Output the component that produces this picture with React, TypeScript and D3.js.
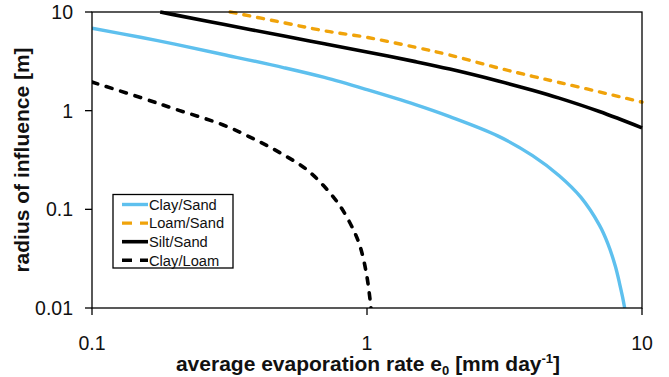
import React from "react";
import * as d3 from "d3";

// evaporation rate e0 [mm/day] vs radius of influence [m]
const claySandX = [0.1, 0.15, 0.2, 0.3, 0.5, 0.7, 1, 1.5, 2, 3, 4, 5, 6, 7, 7.5, 8, 8.3, 8.5, 8.65];
const claySandY = [6.84, 5.55, 4.72, 3.71, 2.72, 2.17, 1.63, 1.15, 0.869, 0.552, 0.35, 0.219, 0.132, 0.0692, 0.0455, 0.0265, 0.0174, 0.0129, 0.01];

const loamSandX = [0.318, 0.5, 0.7, 1, 1.5, 2, 3, 4, 5, 7, 10];
const loamSandY = [10, 7.77, 6.45, 5.53, 4.39, 3.66, 2.71, 2.23, 1.93, 1.55, 1.22];

const siltSandX = [0.177, 0.2, 0.3, 0.5, 0.7, 1, 1.5, 2, 3, 4, 5, 7, 10];
const siltSandY = [10, 9.35, 7.5, 5.7, 4.77, 3.94, 3.14, 2.64, 2.0, 1.61, 1.34, 0.98, 0.67];

const clayLoamX = [0.1, 0.15, 0.2, 0.3, 0.4, 0.5, 0.6, 0.7, 0.8, 0.9, 0.95, 1.0, 1.034];
const clayLoamY = [1.95, 1.36, 1.04, 0.716, 0.495, 0.354, 0.256, 0.17, 0.107, 0.059, 0.0396, 0.0206, 0.01];

const xTicks = [0.1, 1, 10];
const yTicks = [0.01, 0.1, 1, 10];
const tickText = (v: number) => String(v);

const series = [
  { name: "Clay/Sand", xs: claySandX, ys: claySandY, color: "#5ec0ee", dash: null, width: 3.4 },
  { name: "Loam/Sand", xs: loamSandX, ys: loamSandY, color: "#f0a30a", dash: "6 8", width: 3.4 },
  { name: "Silt/Sand", xs: siltSandX, ys: siltSandY, color: "#000000", dash: null, width: 3.6 },
  { name: "Clay/Loam", xs: clayLoamX, ys: clayLoamY, color: "#000000", dash: "6 9", width: 3.6 },
];

const W = 669;
const H = 377;
const left = 92, right = 642, top = 12, bottom = 308;

export default function App() {
  const x = d3.scaleLog().domain([0.1, 10]).range([left, right]);
  const y = d3.scaleLog().domain([0.01, 10]).range([bottom, top]);

  const line = d3
    .line<[number, number]>()
    .x(d => x(d[0]))
    .y(d => y(d[1]))
    .curve(d3.curveCatmullRom.alpha(0.5));

  const font = "'Liberation Sans', Arial, sans-serif";

  return (
    <svg
      width={W}
      height={H}
      style={{ position: "absolute", left: 0, top: 0, background: "#fff" }}
      fontFamily={font}
    >
      <defs>
        <clipPath id="plot">
          <rect x={left} y={top - 2} width={right - left + 2} height={bottom - top + 2} />
        </clipPath>
      </defs>

      <g clipPath="url(#plot)">
        {series.map(s => (
          <path
            key={s.name}
            d={line(s.xs.map((v, i) => [v, s.ys[i]] as [number, number])) || ""}
            fill="none"
            stroke={s.color}
            strokeWidth={s.width}
            strokeDasharray={s.dash || undefined}
            strokeLinecap={s.dash ? "round" : "butt"}
            strokeLinejoin="round"
          />
        ))}
      </g>

      {/* plot frame */}
      <rect x={left} y={top} width={right - left} height={bottom - top} fill="none" stroke="#000" strokeWidth={1.3} />

      {/* y axis */}
      {yTicks.map(t => (
        <g key={"y" + t}>
          <line x1={left - 7} x2={left} y1={y(t)} y2={y(t)} stroke="#000" strokeWidth={1.3} />
          <text x={73} y={y(t)} dy="0.36em" textAnchor="end" fontSize={19.5} fill="#111">
            {tickText(t)}
          </text>
        </g>
      ))}

      {/* x axis */}
      {xTicks.map(t => (
        <g key={"x" + t}>
          <line x1={x(t)} x2={x(t)} y1={bottom} y2={bottom + 7} stroke="#000" strokeWidth={1.3} />
          <text x={x(t)} y={350} textAnchor="middle" fontSize={19.5} fill="#111">
            {tickText(t)}
          </text>
        </g>
      ))}

      <text x={(left + right) / 2 + 1} y={371} textAnchor="middle" fontSize={21} fontWeight="bold" fill="#111">
        average evaporation rate e
        <tspan fontSize={13} dy={4}>0</tspan>
        <tspan dy={-4}> [mm day</tspan>
        <tspan fontSize={13} dy={-8}>-1</tspan>
        <tspan dy={8}>]</tspan>
      </text>

      <text
        transform={`translate(29,${(top + bottom) / 2}) rotate(-90)`}
        textAnchor="middle"
        fontSize={21}
        fontWeight="bold"
        fill="#111"
      >
        radius of influence [m]
      </text>

      {/* legend */}
      <g>
        <rect x={113} y={194.5} width={120} height={73.5} fill="#fff" stroke="#000" strokeWidth={1.3} />
        {series.map((s, i) => {
          const ly = 204.5 + i * 18.6;
          return (
            <g key={"l" + s.name}>
              <line
                x1={122}
                x2={148}
                y1={ly}
                y2={ly}
                stroke={s.color}
                strokeWidth={s.width}
                strokeDasharray={s.dash ? "10 8" : undefined}
              />
              <text x={149} y={ly} dy="0.36em" fontSize={14.7} fill="#111">
                {s.name}
              </text>
            </g>
          );
        })}
      </g>
    </svg>
  );
}
